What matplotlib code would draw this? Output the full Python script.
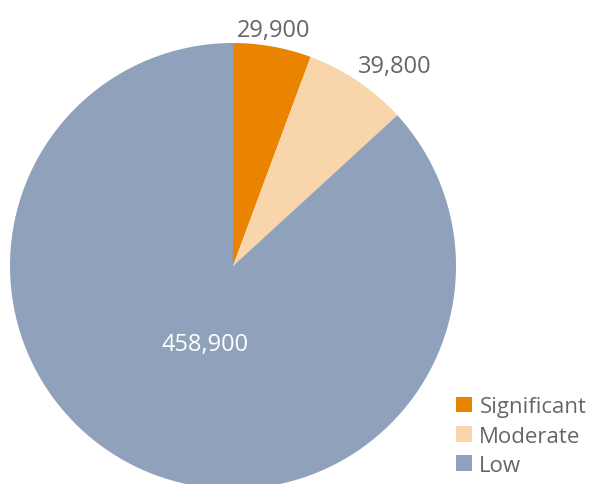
import matplotlib
matplotlib.use("Agg")
import matplotlib.pyplot as plt
import numpy as np
from matplotlib.patches import Patch

categories = ["Significant", "Moderate", "Low"]
values = [29900, 39800, 458900]
colors = ["#E98300", "#F8D5AA", "#8FA1BB"]
value_labels = ["29,900", "39,800", "458,900"]

plt.rcParams['font.family'] = ['Open Sans', 'DejaVu Sans']

W, H = 592, 485
fig = plt.figure(figsize=(W/100, H/100), dpi=100)
cx, cy, r = 233, 485-267, 223
ax = fig.add_axes([(cx-r)/W, (cy-r)/H, 2*r/W, 2*r/H])
wedges, _ = ax.pie(values, colors=colors, startangle=90, counterclock=False,
                   radius=1, wedgeprops=dict(linewidth=0))
ax.set_xlim(-1, 1); ax.set_ylim(-1, 1)
ax.set_aspect('equal')
ax.axis('off')

# label placement (angle in deg, distance as fraction of radius)
label_pos = [(80.2, 1.075), (51.0, 1.155), (-110, 0.37)]
text_colors = ["#666666", "#666666", "#FFFFFF"]
for lab, (ang, d), tc in zip(value_labels, label_pos, text_colors):
    a = np.deg2rad(ang)
    ax.text(d*np.cos(a), d*np.sin(a), lab, ha='center', va='center',
            fontsize=17, color=tc, clip_on=False)

handles = [Patch(facecolor=c, edgecolor='none') for c in colors]
leg = fig.legend(handles, categories, loc='lower left',
                 bbox_to_anchor=(456/W, 8/H), frameon=False, fontsize=16,
                 handlelength=0.7, handleheight=0.7, handletextpad=0.35,
                 labelspacing=0.38, borderpad=0, borderaxespad=0,
                 labelcolor="#666666")

fig.savefig("out.png", dpi=100)
